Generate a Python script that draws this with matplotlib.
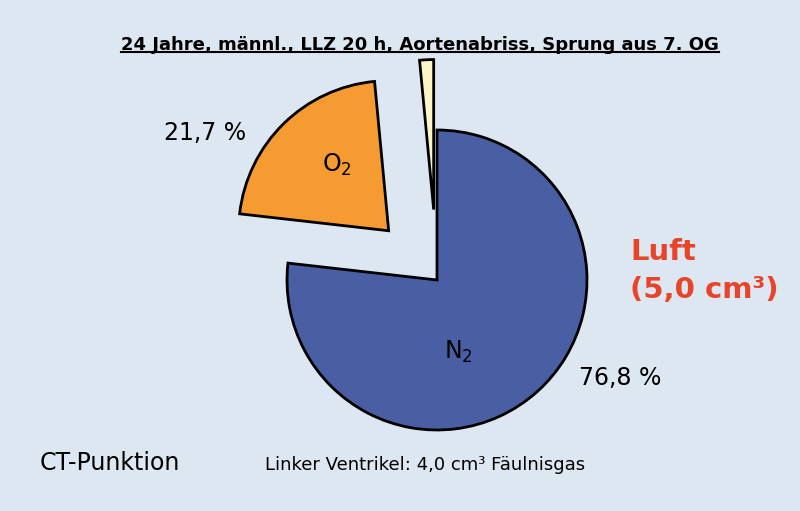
import matplotlib.pyplot as plt
from matplotlib.lines import Line2D

labels = ["N2", "O2", "Rest"]
shares = [76.8, 21.7, 1.5]
colors = ["#4a5ea4", "#f59b31", "#fdf6c4"]
explode = [0.0, 0.46, 0.47]

fig = plt.figure(figsize=(8, 5.11), dpi=100)
fig.patch.set_facecolor("#dce7f1")

# pie centre at about (437, 280) px, radius 150 px
cx, cy, r = 437 / 800, 1 - 280 / 511, 150
half = 2.0
ax = fig.add_axes([cx - half * r / 800, cy - half * r / 511, 2 * half * r / 800, 2 * half * r / 511])
ax.pie(shares, colors=colors, explode=explode, startangle=90, counterclock=False,
       wedgeprops=dict(edgecolor="black", linewidth=2))
ax.set_xlim(-half, half)
ax.set_ylim(-half, half)
ax.axis("off")

fig.text(458 / 800, 1 - 352 / 511, r"N$_2$", fontsize=17, ha="center", va="center")
fig.text(337 / 800, 1 - 165 / 511, r"O$_2$", fontsize=17, ha="center", va="center")
fig.text(205 / 800, 1 - 133 / 511, "21,7 %", fontsize=17, ha="center", va="center")
fig.text(620 / 800, 1 - 378 / 511, "76,8 %", fontsize=17, ha="center", va="center")

fig.text(630 / 800, 1 - 252 / 511, "Luft", fontsize=21, color="#e8442a",
         fontweight="bold", ha="left", va="center")
fig.text(630 / 800, 1 - 290 / 511, "(5,0 cm³)", fontsize=21, color="#e8442a",
         fontweight="bold", ha="left", va="center")

fig.text(110 / 800, 1 - 463 / 511, "CT-Punktion", fontsize=17, ha="center", va="center")
fig.text(425 / 800, 1 - 465 / 511, "Linker Ventrikel: 4,0 cm³ Fäulnisgas", fontsize=13,
         ha="center", va="center")

title = fig.text(420 / 800, 1 - 45 / 511,
                 "24 Jahre, männl., LLZ 20 h, Aortenabriss, Sprung aus 7. OG",
                 fontsize=13, fontweight="bold", ha="center", va="center")
fig.canvas.draw()
bb = title.get_window_extent().transformed(fig.transFigure.inverted())
fig.add_artist(Line2D([bb.x0, bb.x1], [bb.y0 + 0.003, bb.y0 + 0.003], color="black",
                      linewidth=1.5, transform=fig.transFigure))

fig.savefig("out.png", dpi=100, facecolor=fig.get_facecolor())
